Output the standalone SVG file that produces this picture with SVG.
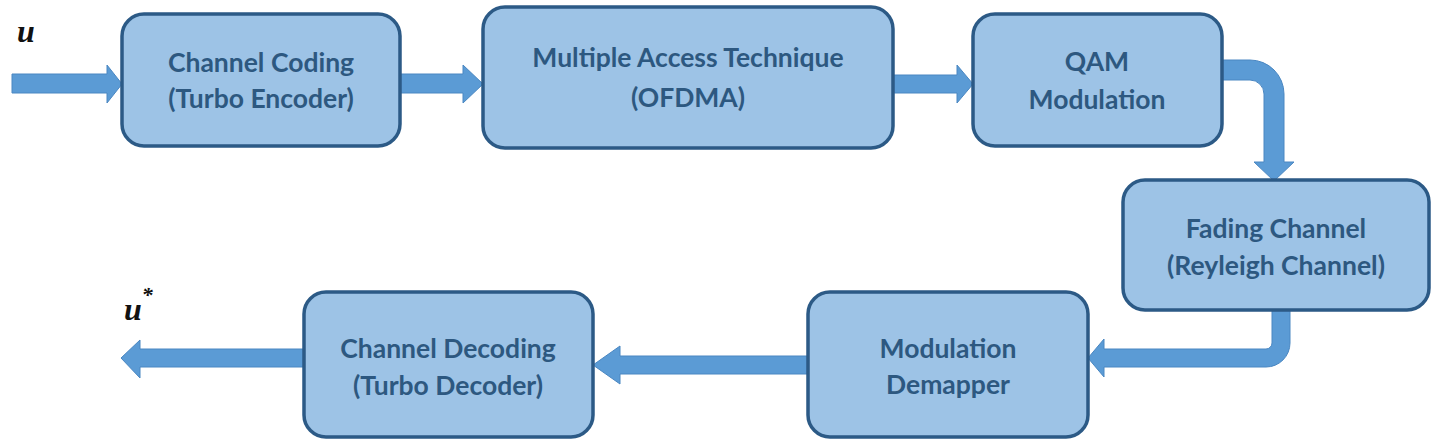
<svg xmlns="http://www.w3.org/2000/svg" width="1432" height="444" viewBox="0 0 1432 444">
<style>
.box{fill:#9dc3e6;stroke:#2c5a86;stroke-width:3.5}
.lbl{font-family:Lato,"Open Sans",sans-serif;font-weight:bold;font-size:26.5px;fill:#2d5880;text-anchor:middle}
.arr{fill:#5b9bd5;stroke:#4a87c2;stroke-width:1}
.var{font-family:"Liberation Serif",serif;font-style:italic;font-weight:bold;font-size:32px;fill:#111}
</style>
<rect width="1432" height="444" fill="#fff"/>
<g id="connectors">
<path class="arr" d="M12,74 L107,74 L107,65 L122,84 L107,103 L107,93 L12,93 Z"/>
<path class="arr" d="M400,74 L463,74 L463,65 L483,84 L463,103 L463,93 L400,93 Z"/>
<path class="arr" d="M893,75 L957,75 L957,65 L973,84 L957,103 L957,93 L893,93 Z"/>
<path class="arr" d="M1222,60 L1250,60 A34,34 0 0 1 1284,94 L1284,162 L1294,162 L1274,181 L1254,162 L1264,162 L1264,94 A14,14 0 0 0 1250,80 L1222,80 Z"/>
<path class="arr" d="M1272,310 L1290,310 L1290,343 A24,24 0 0 1 1266,367 L1104,367 L1104,377 L1088,358 L1104,339 L1104,349 L1266,349 A6,6 0 0 0 1272,343 Z"/>
<path class="arr" d="M808,356 L620,356 L620,346 L593,365 L620,384 L620,374 L808,374 Z"/>
<path class="arr" d="M304,349 L140,349 L140,340 L121,358 L140,378 L140,367 L304,367 Z"/>
</g>
<g id="u-in"><text class="var" x="17" y="42">u</text></g>
<g id="u-out"><text class="var" x="124" y="320">u<tspan font-size="22" dy="-18">*</tspan></text></g>
<g id="channel-coding">
<rect class="box" x="122" y="14" width="278" height="132" rx="22"/>
<text class="lbl" x="261" y="72">Channel Coding</text>
<text class="lbl" x="261" y="108">(Turbo Encoder)</text>
</g>
<g id="multiple-access">
<rect class="box" x="483" y="7" width="410" height="141" rx="22"/>
<text class="lbl" x="688" y="67">Multiple Access Technique</text>
<text class="lbl" x="688" y="107">(OFDMA)</text>
</g>
<g id="qam">
<rect class="box" x="973" y="14" width="249" height="132" rx="22"/>
<text class="lbl" x="1097" y="71">QAM</text>
<text class="lbl" x="1097" y="109">Modulation</text>
</g>
<g id="fading">
<rect class="box" x="1123" y="180" width="306" height="130" rx="22"/>
<text class="lbl" x="1276" y="238">Fading Channel</text>
<text class="lbl" x="1276" y="275">(Reyleigh Channel)</text>
</g>
<g id="demapper">
<rect class="box" x="808" y="292" width="280" height="145" rx="22"/>
<text class="lbl" x="948" y="358">Modulation</text>
<text class="lbl" x="948" y="394">Demapper</text>
</g>
<g id="channel-decoding">
<rect class="box" x="304" y="292" width="289" height="145" rx="22"/>
<text class="lbl" x="448" y="358">Channel Decoding</text>
<text class="lbl" x="448" y="395">(Turbo Decoder)</text>
</g>
</svg>
